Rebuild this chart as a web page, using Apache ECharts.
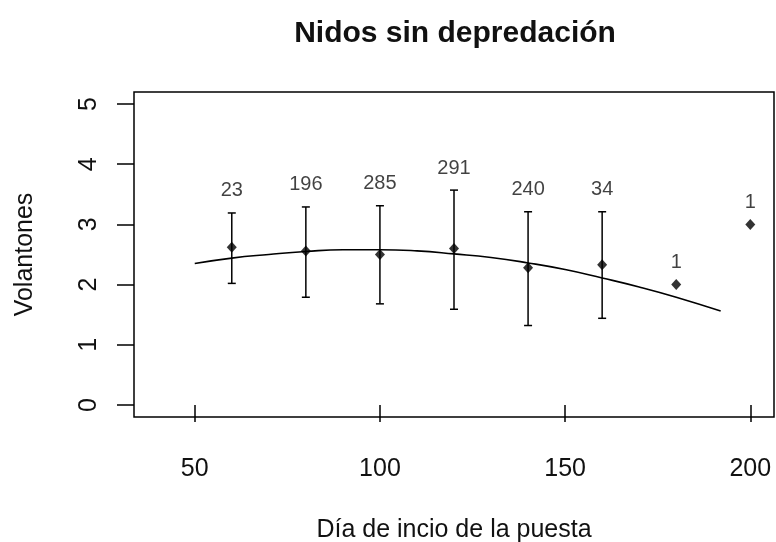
<!DOCTYPE html>
<html>
<head>
<meta charset="utf-8">
<title>Nidos sin depredación</title>
<script src="https://cdn.jsdelivr.net/npm/echarts@6/dist/echarts.min.js"></script>
<style>
  html, body { margin: 0; padding: 0; background: #fff; }
  #chart { width: 776px; height: 542px; }
</style>
</head>
<body>
<div id="chart"></div>
<script>
// Laying date (day) for each group of nests
const days = [60, 80, 100, 120, 140, 160, 180, 200];
// Mean number of fledglings per group
const meanFledglings = [2.62, 2.56, 2.50, 2.60, 2.28, 2.33, 2.00, 3.00];
// Lower / upper ends of the error bars (null where there is only one nest)
const barLower = [2.02, 1.79, 1.68, 1.59, 1.32, 1.44, null, null];
const barUpper = [3.19, 3.29, 3.31, 3.57, 3.21, 3.21, null, null];
// Number of nests in each group
const nestCounts = [23, 196, 285, 291, 240, 34, 1, 1];

// Fitted trend (quadratic) sampled along the laying dates
const trendDays = [50, 60, 70, 80, 90, 100, 110, 120, 130, 140, 150, 160, 170, 180, 192];
const trendFledglings = [2.35, 2.44, 2.50, 2.55, 2.58, 2.58, 2.56, 2.51, 2.45, 2.36, 2.25, 2.11, 1.96, 1.79, 1.56];

const xTicks = [50, 100, 150, 200];
const yTicks = [0, 1, 2, 3, 4, 5];

const FONT = "'Liberation Sans', Arial, sans-serif";
const INK = '#111';

const pointData = days.map((d, i) => [d, meanFledglings[i]]);
const barData = days
  .map((d, i) => [d, barLower[i], barUpper[i]])
  .filter(r => r[1] !== null);
// counts sit above the bar top, or above the point when no bar exists
const countData = days.map((d, i) => ({
  value: [d, barUpper[i] !== null ? barUpper[i] : meanFledglings[i]],
  n: nestCounts[i]
}));
const trendData = trendDays.map((d, i) => [d, trendFledglings[i]]);

const chart = echarts.init(document.getElementById('chart'), null, { renderer: 'canvas' });

chart.setOption({
  backgroundColor: '#fff',
  animation: false,
  title: {
    text: 'Nidos sin depredación',
    left: 450,
    textAlign: 'center',
    top: 14,
    textStyle: { fontFamily: FONT, fontSize: 30, fontWeight: 'bold', color: INK }
  },
  grid: {
    left: 134, right: 2, top: 92, bottom: 125,
    outerBoundsMode: 'none',
    containLabel: false,
    show: true, borderColor: '#000', borderWidth: 1.5, backgroundColor: 'transparent'
  },
  xAxis: {
    type: 'value',
    min: 33.6, max: 206.4,
    name: 'Día de incio de la puesta',
    nameLocation: 'middle',
    nameGap: 101,
    nameTextStyle: { fontFamily: FONT, fontSize: 25, color: INK },
    axisLine: { show: false },
    axisTick: { show: true, inside: false, length: 17, customValues: xTicks,
                lineStyle: { color: '#000', width: 1.5 } },
    axisLabel: { customValues: xTicks, margin: 40,
                 fontFamily: FONT, fontSize: 25, color: INK },
    splitLine: { show: false }
  },
  yAxis: {
    type: 'value',
    min: -0.2, max: 5.2,
    name: 'Volantones',
    nameLocation: 'middle',
    nameGap: 96,
    nameTextStyle: { fontFamily: FONT, fontSize: 25, color: INK },
    axisLine: { show: false },
    axisTick: { show: true, inside: false, length: 17, customValues: yTicks,
                lineStyle: { color: '#000', width: 1.5 } },
    axisLabel: { customValues: yTicks, rotate: 90, margin: 32,
                 fontFamily: FONT, fontSize: 25, color: INK },
    splitLine: { show: false }
  },
  series: [
    {
      name: 'Tendencia',
      type: 'line',
      data: trendData,
      smooth: true,
      symbol: 'none',
      lineStyle: { color: '#000', width: 1.6 },
      z: 2
    },
    {
      name: 'Desviación',
      type: 'custom',
      data: barData,
      renderItem: function (params, api) {
        const x = api.value(0);
        const lo = api.coord([x, api.value(1)]);
        const hi = api.coord([x, api.value(2)]);
        const cap = 4;
        const style = { stroke: '#000', lineWidth: 1.5 };
        return {
          type: 'group',
          children: [
            { type: 'line', shape: { x1: lo[0], y1: lo[1], x2: hi[0], y2: hi[1] }, style },
            { type: 'line', shape: { x1: hi[0] - cap, y1: hi[1], x2: hi[0] + cap, y2: hi[1] }, style },
            { type: 'line', shape: { x1: lo[0] - cap, y1: lo[1], x2: lo[0] + cap, y2: lo[1] }, style }
          ]
        };
      },
      z: 3
    },
    {
      name: 'Media',
      type: 'scatter',
      data: pointData,
      symbol: 'diamond',
      symbolSize: [10, 11],
      itemStyle: { color: '#000' },
      z: 4
    },
    {
      name: 'Nidos',
      type: 'scatter',
      data: countData,
      symbolSize: 0,
      itemStyle: { color: 'transparent' },
      label: {
        show: true,
        position: 'top',
        distance: 12,
        formatter: p => String(p.data.n),
        fontFamily: FONT, fontSize: 20, color: INK
      },
      z: 5
    }
  ]
});
</script>
</body>
</html>
